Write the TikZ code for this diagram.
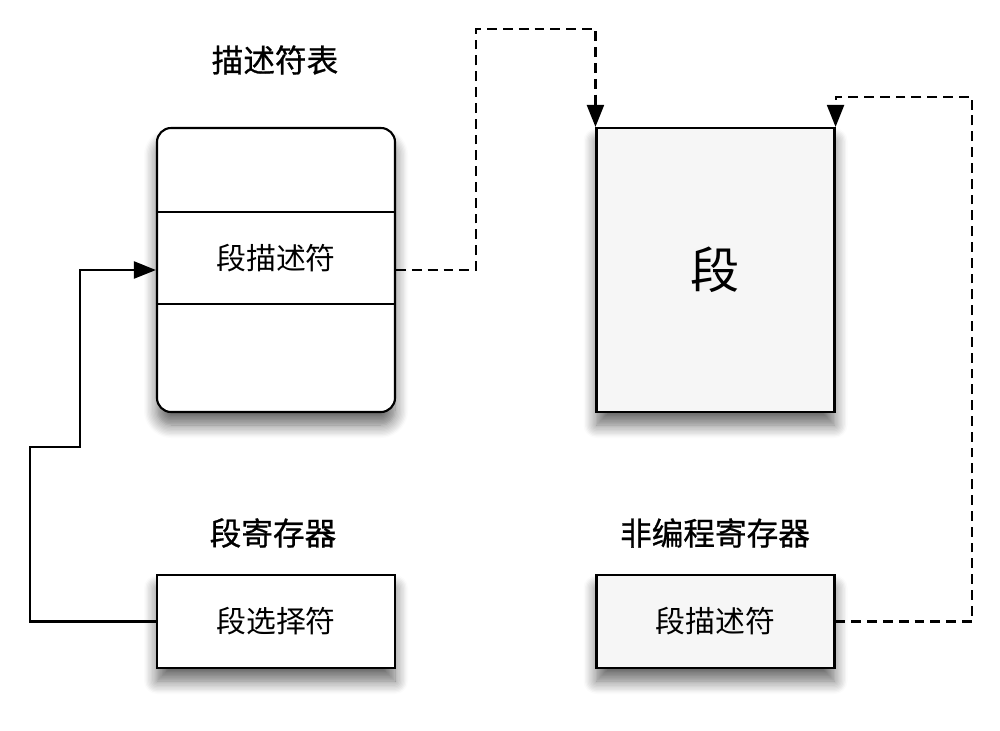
\documentclass[tikz,border=0pt]{standalone}
\usepackage{fontspec}
\setmainfont{Noto Sans CJK SC}
\newfontfamily\titlefont{Noto Sans CJK SC}[FakeBold=0.8]
\usepackage{xcolor}
\usepackage{tikz}
\usetikzlibrary{arrows.meta,positioning,calc,shadows.blur}
\definecolor{seggray}{HTML}{F6F6F6}

\begin{document}
\begin{tikzpicture}[
  line width=1.2pt, >={Triangle[length=4.4mm, width=3.4mm]},
  font=\fontsize{17}{20}\selectfont,
  box/.style={draw, minimum width=4.76cm, inner sep=0pt, align=center,
              blur shadow={shadow xshift=0pt, shadow yshift=-2.6mm, shadow blur radius=2.6mm,
                           shadow blur steps=10, shadow opacity=60}},
  title/.style={font=\fontsize{18}{22}\selectfont\titlefont},
  link/.style={dash pattern=on 5.6pt off 3.4pt}]
\useasboundingbox (0,0) rectangle (20,-14.6);
% descriptor table
\node[title] (ttab) at (5.5,-1.2) {描述符表};
\node[box, rounded corners=8pt, fill=white, minimum height=5.68cm] (tab) at (5.52,-5.4) {};
\draw ($(tab.west)+(0,1.16)$) -- ($(tab.east)+(0,1.16)$);
\draw ($(tab.west)+(0,-0.68)$) -- ($(tab.east)+(0,-0.68)$);
\node (tdesc) at (5.52,-5.16) {段描述符};
% segment
\node[box, fill=seggray, minimum height=5.68cm, font=\fontsize{28}{32}\selectfont] (seg) at (14.31,-5.4) {段};
% registers
\node[title] (tsreg) at (5.46,-10.66) {段寄存器};
\node[box, fill=white, minimum height=1.86cm] (sel) at (5.52,-12.43) {段选择符};
\node[title] (tnreg) at (14.3,-10.66) {非编程寄存器};
\node[box, fill=seggray, minimum height=1.86cm] (nreg) at (14.31,-12.43) {段描述符};
% connectors
\coordinate (c1) at (0.6,-8.94);
\coordinate (c2) at (1.6,-8.94);
\draw[->] (sel.west) -| (c1) -- (c2) |- (tab.west);
\coordinate (d1) at (9.52,-0.58);
\draw[->, link] (tab.east) -| (d1) -| (seg.north west);
\coordinate (d2) at (19.44,-1.94);
\draw[->, link] (nreg.east) -| (d2) -| (seg.north east);
\end{tikzpicture}
\end{document}
